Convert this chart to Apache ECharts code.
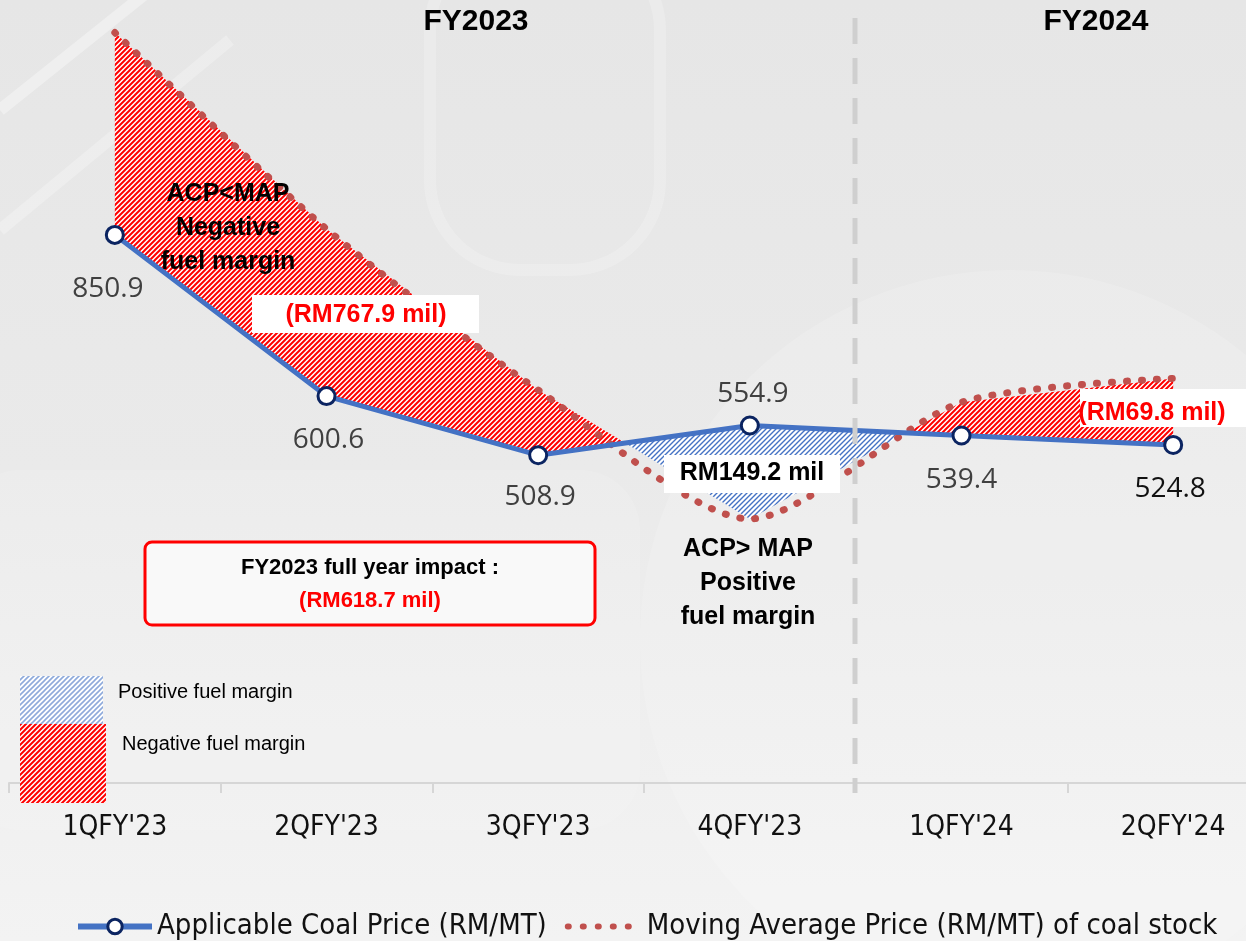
<!DOCTYPE html>
<html>
<head>
<meta charset="utf-8">
<script src="https://cdn.jsdelivr.net/npm/echarts@6/dist/echarts.min.js"></script>
<style>
html,body{margin:0;padding:0;background:#ececec;}
#chart{width:1246px;height:941px;}
</style>
</head>
<body>
<div id="chart"></div>
<script>
const categories = ["1QFY'23", "2QFY'23", "3QFY'23", "4QFY'23", "1QFY'24", "2QFY'24"];
const acp = [850.9, 600.6, 508.9, 554.9, 539.4, 524.8];
const mapPrice = [1165, 860, 610, 410, 591, 628];
const seriesNames = ['Applicable Coal Price (RM/MT)', 'Moving Average Price (RM/MT) of coal stock'];

// label styling (kept separate from data)
const labelPos = ['bottom', 'bottom', 'bottom', 'top', 'bottom', 'bottom'];
const labelDist = [30, 20, 18, 8, 20, 20];
const labelDx = [-7, 2, 2, 3, 0, -3];
const labelColor = ['#404040', '#404040', '#404040', '#404040', '#404040', '#111111'];

function hatch(color, bg, size, lw) {
  const c = document.createElement('canvas');
  c.width = size; c.height = size;
  const g = c.getContext('2d');
  if (bg) { g.fillStyle = bg; g.fillRect(0, 0, size, size); }
  g.strokeStyle = color; g.lineWidth = lw; g.beginPath();
  g.moveTo(-1, size + 1); g.lineTo(size + 1, -1);
  g.moveTo(-1, 1); g.lineTo(1, -1);
  g.moveTo(size - 1, size + 1); g.lineTo(size + 1, size - 1);
  g.stroke();
  return c;
}
const redPat = { image: hatch('#ff0000', '#ffffff', 5, 2), repeat: 'repeat' };
const bluePat = { image: hatch('#4472c4', '#ffffff', 5, 1.4), repeat: 'repeat' };
const blueLegPat = { image: hatch('#8eaadb', '#ffffff', 5, 1.6), repeat: 'repeat' };

// regions between the two lines, split at crossings
function buildRegions(a, m) {
  const regions = [];
  let top = [[0, m[0]]], bot = [[0, a[0]]];
  let sgn = Math.sign(m[0] - a[0]);
  for (let i = 0; i < a.length - 1; i++) {
    const d0 = m[i] - a[i], d1 = m[i + 1] - a[i + 1];
    if (d0 * d1 < 0) {
      const t = d0 / (d0 - d1);
      const p = [i + t, a[i] + t * (a[i + 1] - a[i])];
      top.push(p); bot.push(p);
      regions.push({ sign: sgn, pts: top.concat(bot.slice().reverse()) });
      top = [p]; bot = [p]; sgn = -sgn;
    }
    top.push([i + 1, m[i + 1]]); bot.push([i + 1, a[i + 1]]);
  }
  regions.push({ sign: sgn, pts: top.concat(bot.slice().reverse()) });
  return regions;
}
const regions = buildRegions(acp, mapPrice);

const chart = echarts.init(document.getElementById('chart'));
const boldFont = 'bold 25px "Liberation Sans", Arial, sans-serif';
const condFont = '"DejaVu Sans Condensed", "DejaVu Sans", sans-serif';

const option = {
  animation: false,
  grid: { left: 9, right: -33, top: 10, bottom: 158, outerBoundsMode: 'none', containLabel: false },
  xAxis: [
    {
      type: 'category', data: categories, boundaryGap: true,
      axisLine: { lineStyle: { color: '#d6d6d6', width: 2 } },
      axisTick: { show: true, length: 10, lineStyle: { color: '#d6d6d6', width: 2 } },
      axisLabel: { color: '#111', fontSize: 28, fontFamily: condFont, margin: 31 },
      splitLine: { show: false }
    },
    { type: 'value', min: -0.5, max: 5.5, show: false }
  ],
  yAxis: { type: 'value', min: 0, max: 1200, show: false, splitLine: { show: false } },
  legend: {
    data: [
      { name: seriesNames[0], itemStyle: { color: '#ffffff', borderColor: '#0b2461', borderWidth: 3 }, lineStyle: { width: 6, color: '#4472c4' } },
      { name: seriesNames[1], itemStyle: { opacity: 0 }, lineStyle: { width: 6, color: '#c0504d', type: [1, 14], cap: 'round' } }
    ],
    left: 70, top: 907,
    itemWidth: 74, itemHeight: 18, itemGap: 18,
    textStyle: { fontSize: 29, color: '#111', fontFamily: condFont }
  },
  series: [
    {
      type: 'custom', xAxisIndex: 1, silent: true, z: 1,
      data: regions.map(r => [r.pts[0][0], r.pts[0][1]]),
      renderItem: function (params, api) {
        const r = regions[params.dataIndex];
        return {
          type: 'polygon',
          shape: { points: r.pts.map(p => api.coord(p)) },
          style: { fill: r.sign > 0 ? redPat : bluePat }
        };
      }
    },
    {
      name: seriesNames[1], type: 'line', xAxisIndex: 1, z: 3,
      data: mapPrice.map((v, i) => [i, v]),
      smooth: 0.25, symbol: 'none',
      lineStyle: { color: '#c0504d', width: 7, type: [1, 14], cap: 'round' },
      itemStyle: { color: '#c0504d' }
    },
    {
      name: seriesNames[0], type: 'line', xAxisIndex: 1, z: 4,
      data: acp.map((v, i) => ({
        value: [i, v],
        label: { position: labelPos[i], distance: labelDist[i], offset: [labelDx[i], 0], color: labelColor[i] }
      })),
      symbol: 'circle', symbolSize: 17,
      lineStyle: { color: '#4472c4', width: 5 },
      itemStyle: { color: '#ffffff', borderColor: '#0b2461', borderWidth: 3 },
      label: {
        show: true, fontSize: 28, fontFamily: '"Open Sans", "Noto Sans", sans-serif',
        formatter: p => p.value[1].toFixed(1)
      }
    }
  ],
  graphic: [
    // background
    { type: 'rect', z: -10, silent: true, shape: { x: 0, y: 0, width: 1246, height: 941 },
      style: { fill: new echarts.graphic.LinearGradient(0, 0, 0, 1, [
        { offset: 0, color: '#e6e6e6' }, { offset: 0.5, color: '#eaeaea' }, { offset: 1, color: '#f3f3f3' }]) } },
    { type: 'circle', z: -9, silent: true, shape: { cx: 1010, cy: 640, r: 370 },
      style: { fill: 'rgba(255,255,255,0.15)' } },
    { type: 'rect', z: -9, silent: true, shape: { x: -40, y: 470, width: 680, height: 360, r: 60 },
      style: { fill: 'rgba(255,255,255,0.12)' } },
    { type: 'line', z: -9, silent: true, shape: { x1: 0, y1: 110, x2: 150, y2: -10 },
      style: { stroke: 'rgba(255,255,255,0.35)', lineWidth: 12 } },
    { type: 'line', z: -9, silent: true, shape: { x1: 0, y1: 230, x2: 230, y2: 40 },
      style: { stroke: 'rgba(255,255,255,0.25)', lineWidth: 12 } },
    { type: 'rect', z: -9, silent: true, shape: { x: 430, y: -60, width: 230, height: 330, r: 90 },
      style: { fill: 'none', stroke: 'rgba(255,255,255,0.2)', lineWidth: 12 } },
    // divider
    { type: 'line', z: 50, silent: true, shape: { x1: 855, y1: 18, x2: 855, y2: 793 },
      style: { stroke: '#cfcfcf', lineWidth: 5, lineDash: [26, 14] } },
    // titles
    { type: 'text', z: 60, x: 476, y: 22, style: { text: 'FY2023', font: 'bold 30px "Liberation Sans", Arial, sans-serif', fill: '#000', align: 'center', verticalAlign: 'middle' } },
    { type: 'text', z: 60, x: 1096, y: 22, style: { text: 'FY2024', font: 'bold 30px "Liberation Sans", Arial, sans-serif', fill: '#000', align: 'center', verticalAlign: 'middle' } },
    // negative annotation
    { type: 'text', z: 60, x: 228, y: 228, style: { text: 'ACP<MAP\nNegative\nfuel margin', font: boldFont, lineHeight: 34, fill: '#000', align: 'center', verticalAlign: 'middle' } },
    { type: 'rect', z: 58, shape: { x: 252, y: 295, width: 227, height: 38 }, style: { fill: '#ffffff' } },
    { type: 'text', z: 60, x: 366, y: 315, style: { text: '(RM767.9 mil)', font: boldFont, fill: '#ff0000', align: 'center', verticalAlign: 'middle' } },
    // positive annotation
    { type: 'rect', z: 58, shape: { x: 664, y: 455, width: 176, height: 38 }, style: { fill: '#ffffff' } },
    { type: 'text', z: 60, x: 752, y: 473, style: { text: 'RM149.2 mil', font: boldFont, fill: '#000', align: 'center', verticalAlign: 'middle' } },
    { type: 'text', z: 60, x: 748, y: 583, style: { text: 'ACP> MAP\nPositive\nfuel margin', font: boldFont, lineHeight: 34, fill: '#000', align: 'center', verticalAlign: 'middle' } },
    // FY2024 annotation
    { type: 'rect', z: 58, shape: { x: 1080, y: 389, width: 170, height: 38 }, style: { fill: '#ffffff' } },
    { type: 'text', z: 60, x: 1152, y: 413, style: { text: '(RM69.8 mil)', font: boldFont, fill: '#ff0000', align: 'center', verticalAlign: 'middle' } },
    // full year box
    { type: 'rect', z: 58, shape: { x: 145, y: 542, width: 450, height: 83, r: 7 }, style: { fill: 'rgba(250,250,250,0.85)', stroke: '#ff0000', lineWidth: 3 } },
    { type: 'text', z: 60, x: 370, y: 568, style: { text: 'FY2023 full year impact :', font: 'bold 22px "Liberation Sans", Arial, sans-serif', fill: '#000', align: 'center', verticalAlign: 'middle' } },
    { type: 'text', z: 60, x: 370, y: 601, style: { text: '(RM618.7 mil)', font: 'bold 22px "Liberation Sans", Arial, sans-serif', fill: '#ff0000', align: 'center', verticalAlign: 'middle' } },
    // hatch legend
    { type: 'rect', z: 5, shape: { x: 20, y: 676, width: 83, height: 48 }, style: { fill: blueLegPat } },
    { type: 'rect', z: 5, shape: { x: 20, y: 724, width: 86, height: 79 }, style: { fill: redPat } },
    { type: 'text', z: 60, x: 118, y: 692, style: { text: 'Positive fuel margin', font: '20px "Liberation Sans", Arial, sans-serif', fill: '#000', verticalAlign: 'middle' } },
    { type: 'text', z: 60, x: 122, y: 744, style: { text: 'Negative fuel margin', font: '20px "Liberation Sans", Arial, sans-serif', fill: '#000', verticalAlign: 'middle' } }
  ]
};
chart.setOption(option);
</script>
</body>
</html>
